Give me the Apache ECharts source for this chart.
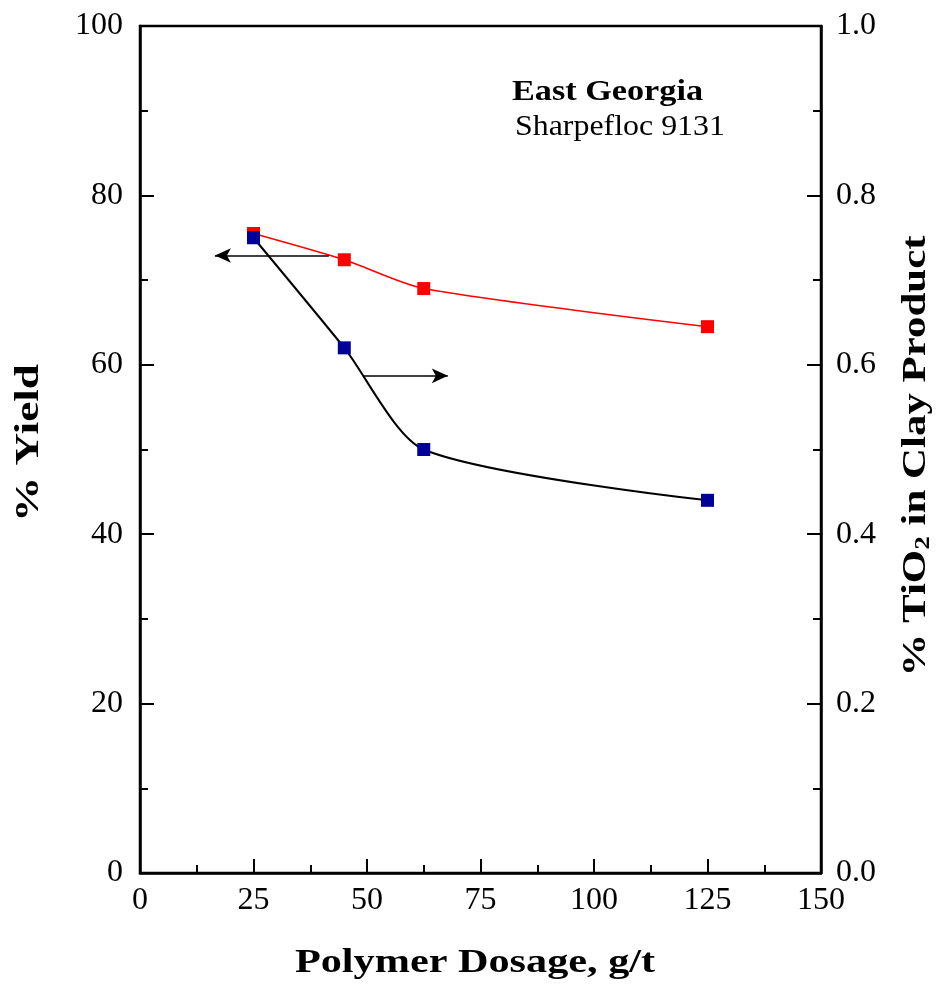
<!DOCTYPE html>
<html><head><meta charset="utf-8">
<script src="https://cdn.jsdelivr.net/npm/echarts@6/dist/echarts.min.js"></script>
<style>html,body{margin:0;padding:0;background:#fff}#c{width:945px;height:987px}</style>
</head><body><div id="c"></div>
<script>
const dosage = [25, 45, 62.5, 125];
const yieldPct = [75.5, 72.4, 69.0, 64.5];
const tio2Pct = [0.75, 0.62, 0.50, 0.44];
const xTicks = [0, 25, 50, 75, 100, 125, 150];
const yieldArrow = [[41.6, 72.9], [16.5, 72.9]];
const tio2Arrow = [[49.1, 0.587], [67.8, 0.587]];

const F = 'Liberation Serif, Times New Roman, serif';
const chart = echarts.init(document.getElementById('c'));
const axisCommon = {
  axisLine: {show: true, lineStyle: {color: '#000', width: 2.5}},
  axisTick: {show: true, inside: true, length: 14, lineStyle: {color: '#000', width: 2}},
  minorTick: {show: true, splitNumber: 2, length: 8, lineStyle: {color: '#000', width: 2}},
  splitLine: {show: false},
  axisLabel: {color: '#000', fontFamily: F, fontSize: 32}
};
function txt(text, x, y, opts) {
  return Object.assign({
    type: 'text', x: x, y: y, silent: true,
    style: Object.assign({text: text, fontFamily: F, fill: '#000', align: 'center', verticalAlign: 'middle'}, opts.style)
  }, opts.el || {});
}
chart.setOption({
  animation: false,
  backgroundColor: '#fff',
  grid: {left: 140, right: 124, top: 26, bottom: 114, show: true, borderColor: '#000', borderWidth: 2.5, outerBoundsMode: 'none', containLabel: false},
  graphic: [
    txt('East Georgia', 512, 93, {style: {fontSize: 29, fontWeight: 'bold', align: 'left'}, el: {scaleX: 1.18}}),
    txt('Sharpefloc 9131', 515, 127, {style: {fontSize: 29, fontWeight: 'normal', align: 'left'}, el: {scaleX: 1.1}}),
    txt('Polymer Dosage, g/t', 475, 963, {style: {fontSize: 33, fontWeight: 'bold'}, el: {scaleX: 1.28}}),
    txt('% Yield', 29, 443, {style: {fontSize: 33, fontWeight: 'bold'}, el: {scaleX: 1.37, rotation: Math.PI / 2}}),
    txt('{a|% TiO}{s|2}{a| in Clay Product}', 916, 456, {
      style: {
        fontSize: 33, fontWeight: 'bold',
        rich: {
          a: {fontFamily: F, fontSize: 33, fontWeight: 'bold', fill: '#000'},
          s: {fontFamily: F, fontSize: 21, fontWeight: 'bold', fill: '#000', verticalAlign: 'bottom', padding: [16, 0, 0, 0]}
        }
      },
      el: {scaleX: 1.3, rotation: Math.PI / 2}
    })
  ],
  xAxis: Object.assign({}, axisCommon, {
    type: 'value', min: xTicks[0], max: xTicks[xTicks.length - 1], interval: 25,
    axisLabel: Object.assign({}, axisCommon.axisLabel, {margin: 12})
  }),
  yAxis: [
    Object.assign({}, axisCommon, {
      type: 'value', min: 0, max: 100, interval: 20, position: 'left',
      axisLabel: Object.assign({}, axisCommon.axisLabel, {margin: 17})
    }),
    Object.assign({}, axisCommon, {
      type: 'value', min: 0, max: 1, interval: 0.2, position: 'right',
      axisLabel: Object.assign({}, axisCommon.axisLabel, {margin: 15, formatter: v => v.toFixed(1)})
    })
  ],
  series: [
    {
      type: 'line', yAxisIndex: 0, data: dosage.map((d, i) => [d, yieldPct[i]]),
      smooth: 0.25, symbol: 'rect', symbolSize: 13,
      lineStyle: {color: '#ff0000', width: 1.5}, itemStyle: {color: '#ff0000'},
      markLine: {
        silent: true, symbol: ['none', 'arrow'], symbolSize: [11, 16],
        lineStyle: {color: '#000', width: 1.5, type: 'solid'}, label: {show: false},
        data: [[{coord: yieldArrow[0]}, {coord: yieldArrow[1]}]]
      }
    },
    {
      type: 'line', yAxisIndex: 1, data: dosage.map((d, i) => [d, tio2Pct[i]]),
      smooth: 0.25, symbol: 'rect', symbolSize: 13,
      lineStyle: {color: '#000', width: 2}, itemStyle: {color: '#000099'},
      markLine: {
        silent: true, symbol: ['none', 'arrow'], symbolSize: [11, 16],
        lineStyle: {color: '#000', width: 1.5, type: 'solid'}, label: {show: false},
        data: [[{coord: tio2Arrow[0]}, {coord: tio2Arrow[1]}]]
      }
    }
  ]
});
</script></body></html>
